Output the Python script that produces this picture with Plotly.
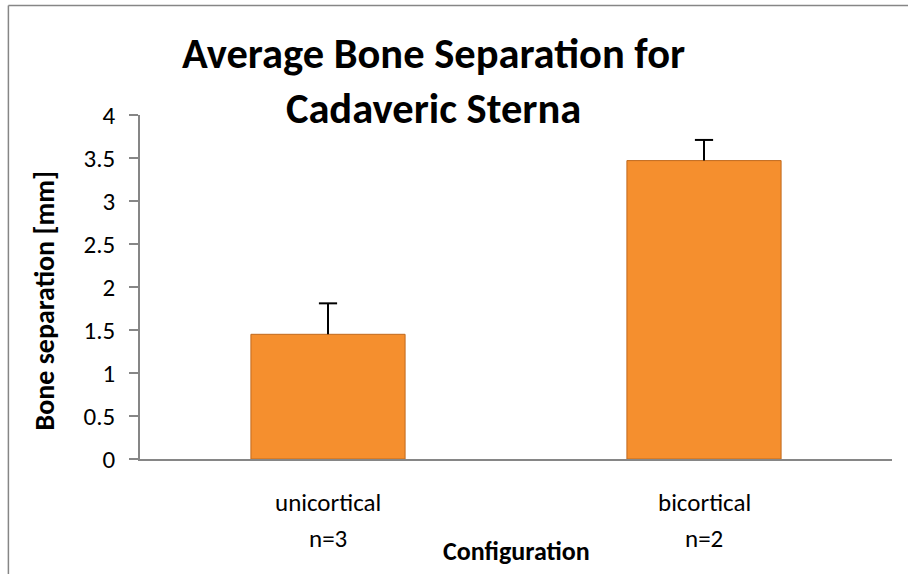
import plotly.graph_objects as go

# Mean bone separation per fixation configuration, with +SD error bars
categories = ["unicortical", "bicortical"]
sample_sizes = ["n=3", "n=2"]
mean_sep = [1.45, 3.47]
sd_sep = [0.36, 0.24]

y_ticks = [0, 0.5, 1, 1.5, 2, 2.5, 3, 3.5, 4]

FONT = "Carlito, Calibri, Lato, sans-serif"
AXIS_GREY = "#868686"

fig = go.Figure()

fig.add_trace(go.Bar(
    x=categories,
    y=mean_sep,
    width=0.41,
    marker=dict(color="#F58F2E", line=dict(color="#C06A1E", width=1)),
    error_y=dict(
        type="data",
        array=sd_sep,
        arrayminus=[0] * len(sd_sep),
        symmetric=False,
        color="black",
        thickness=2,
        width=0,
    ),
    showlegend=False,
    hoverinfo="skip",
))

# Caps on the upper end of each error bar only
fig.add_trace(go.Scatter(
    x=categories,
    y=[m + s for m, s in zip(mean_sep, sd_sep)],
    mode="markers",
    marker=dict(symbol="line-ew", size=13, line=dict(color="black", width=2)),
    showlegend=False,
    hoverinfo="skip",
))

annotations = [
    dict(
        text="<b>Average Bone Separation for<br>Cadaveric Sterna</b>",
        xref="paper", yref="paper", x=0.39, y=1.258,
        xanchor="center", yanchor="top", showarrow=False,
        font=dict(family=FONT, size=42.5, color="black"),
    ),
    dict(
        text="<b>Bone separation [mm]</b>",
        xref="paper", yref="paper", x=-0.127, y=0.462,
        xanchor="center", yanchor="middle", textangle=-90, showarrow=False,
        font=dict(family=FONT, size=28, color="black"),
    ),
    dict(
        text="<b>Configuration</b>",
        xref="paper", yref="paper", x=0.5, y=-0.268,
        xanchor="center", yanchor="middle", showarrow=False,
        font=dict(family=FONT, size=26, color="black"),
    ),
]

# Two-line category labels under the axis
for cat, n in zip(categories, sample_sizes):
    annotations.append(dict(
        text=cat, xref="x", yref="paper", x=cat, y=-0.127,
        xanchor="center", yanchor="middle", showarrow=False,
        font=dict(family=FONT, size=25, color="black"),
    ))
    annotations.append(dict(
        text=n, xref="x", yref="paper", x=cat, y=-0.23,
        xanchor="center", yanchor="middle", showarrow=False,
        font=dict(family=FONT, size=25, color="black"),
    ))

# Chart frame (top and left edges)
shapes = [
    dict(type="line", xref="paper", yref="paper",
         x0=-0.175, x1=1.1, y0=1.318, y1=1.318,
         line=dict(color=AXIS_GREY, width=1.5)),
    dict(type="line", xref="paper", yref="paper",
         x0=-0.175, x1=-0.175, y0=1.318, y1=-0.4,
         line=dict(color=AXIS_GREY, width=1.5)),
]

fig.update_layout(
    width=908, height=574,
    margin=dict(l=140, r=16, t=115, b=115),
    paper_bgcolor="white", plot_bgcolor="white",
    font=dict(family=FONT, color="black"),
    annotations=annotations,
    shapes=shapes,
    bargap=0.59,
)

fig.update_xaxes(
    type="category",
    showticklabels=False,
    showline=True, linecolor=AXIS_GREY, linewidth=1.5,
    ticks="", showgrid=False, zeroline=False,
)

fig.update_yaxes(
    range=[0, 4],
    tickvals=y_ticks,
    ticktext=[f"{v:g}" for v in y_ticks],
    showline=True, linecolor=AXIS_GREY, linewidth=1.5,
    ticks="outside", ticklen=9, tickcolor=AXIS_GREY, tickwidth=1.5,
    ticklabelstandoff=9,
    tickfont=dict(family=FONT, size=25, color="black"),
    showgrid=False, zeroline=False,
)

fig.write_html("out.html")
